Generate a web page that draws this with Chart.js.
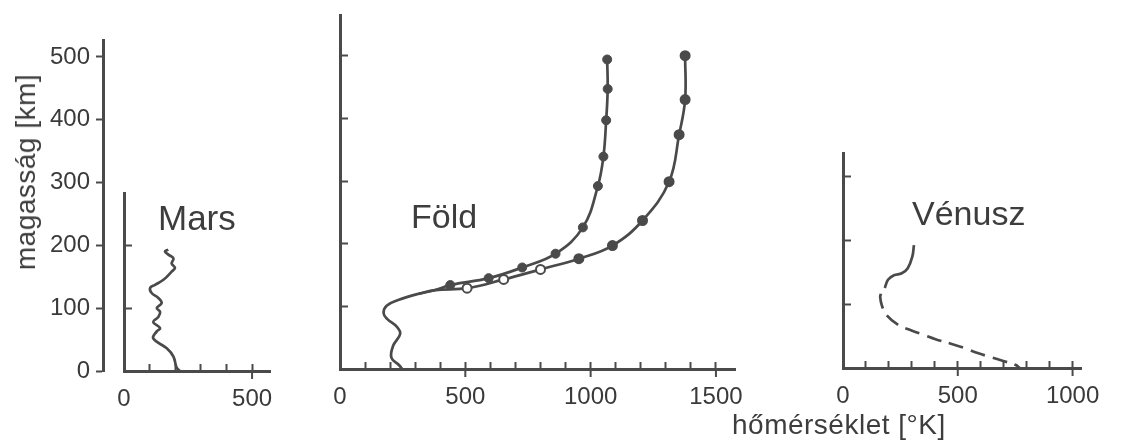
<!DOCTYPE html>
<html lang="hu">
<head>
<meta charset="UTF-8">
<title>Hőmérséklet a magasság függvényében – Mars, Föld, Vénusz</title>
<script src="https://cdn.jsdelivr.net/npm/chart.js"></script>
<style>
  body { margin: 0; background: #fff; font-family: "Liberation Sans", Arial, sans-serif; color: #3d3d3d; }
  #wrap { position: relative; width: 1121px; height: 443px; overflow: hidden; }
  canvas { position: absolute; left: 0; top: 0; }
  .lbl { position: absolute; line-height: 1; white-space: nowrap; }
  #ylabel { left: 26px; top: 172px; font-size: 28px; letter-spacing: 0.5px; transform: translate(-50%, -50%) rotate(-90deg); }
</style>
</head>
<body>
<div id="wrap">
  <canvas id="axisChart" width="1121" height="443"></canvas>
  <canvas id="marsChart" width="1121" height="443"></canvas>
  <canvas id="foldChart" width="1121" height="443"></canvas>
  <canvas id="venusChart" width="1121" height="443"></canvas>
  <div class="lbl" style="left:158px;top:200px;font-size:35px">Mars</div>
  <div class="lbl" style="left:411px;top:199px;font-size:34px">Föld</div>
  <div class="lbl" style="left:912px;top:196px;font-size:34px">Vénusz</div>
  <div class="lbl" style="left:732px;top:411px;font-size:28px;letter-spacing:0.5px">hőmérséklet [°K]</div>
  <div class="lbl" id="ylabel">magasság [km]</div>
</div>

<script>
// altitude axis (shared, labelled)
var altTicks = [0, 100, 200, 300, 400, 500];

// Mars
var marsTemp = [218, 205, 193, 167, 114, 128, 141, 114, 134, 141, 128, 147, 134, 108, 102, 121, 154, 186, 199, 186, 193, 173, 160, 173];
var marsAlt  = [0,   6,   23,  36,  52,  63,  68,  78,  86,  94,  100, 108, 116, 124, 132, 137, 145, 158, 164, 171, 179, 185, 190, 193];
var marsXTicks = [0, 100, 200, 300, 400, 500];
var marsXLabels = [0, 500];
var marsYTicks = [100, 200];

// Föld: common lower part, then two branches
var foldLowTemp = [248, 236, 205, 212, 240, 228, 188, 174, 186, 232, 313, 380];
var foldLowAlt  = [0,   6,   18,  37,  56,  67,  80,  89,  101, 110, 120, 126];
var foldColdTemp = [440, 593, 727, 860, 969, 1029, 1051, 1062, 1068, 1066];
var foldColdAlt  = [134, 145, 162, 184, 226, 292,  339,  397,  447,  494];
var foldHotTemp = [507, 653, 800, 953, 1087, 1207, 1313, 1353, 1377, 1377];
var foldHotAlt  = [129, 143, 159, 176, 197,  237,  299,  374,  430,  500];
var foldHotOpen = 3; // first markers of the hot branch are hollow
var foldXTicks = [0, 100, 200, 300, 400, 500, 600, 700, 800, 900, 1000, 1100, 1200, 1300, 1400, 1500];
var foldXLabels = [0, 500, 1000, 1500];
var foldYTicks = [100, 200, 300, 400, 500];

// Vénusz
var venusSolidTemp = [309, 302, 282, 256, 222, 196, 182];
var venusSolidAlt  = [192, 174, 156, 148, 145, 138, 125];
var venusDashTemp = [165, 162, 169, 189, 242, 296, 349, 403, 470, 530, 590, 644, 698, 751, 770];
var venusDashAlt  = [116, 111, 98,  83,  67,  59,  52,  45,  38,  31,  23,  17,  11,  5,   0];
var venusXTicks = [0, 100, 200, 300, 400, 500, 600, 700, 800, 900, 1000];
var venusXLabels = [0, 500, 1000];
var venusYTicks = [100, 200, 300];

var ink = '#4a4a4a';
var textInk = '#3a3a3a';
var fontFam = '"Liberation Sans", Arial, sans-serif';

function pts(xs, ys) {
  return xs.map(function (x, i) { return { x: x, y: ys[i] }; });
}

function fixTicks(list) {
  return function (scale) { scale.ticks = list.map(function (v) { return { value: v }; }); };
}

// major x ticks cross the axis line: draw the part below it
var majorStubs = {
  id: 'majorStubs',
  afterDraw: function (chart, args, opts) {
    if (!opts.values) return;
    var sx = chart.scales.x, ctx = chart.ctx, y = chart.chartArea.bottom;
    ctx.save();
    ctx.strokeStyle = ink;
    ctx.lineWidth = 2;
    opts.values.forEach(function (v) {
      if (v === 0) return;
      var px = sx.getPixelForValue(v);
      ctx.beginPath();
      ctx.moveTo(px, y);
      ctx.lineTo(px, y + 8);
      ctx.stroke();
    });
    ctx.restore();
  }
};

function line(data, dash) {
  return {
    data: data, showLine: true, pointRadius: 0, borderColor: ink, borderWidth: 2.7,
    tension: 0.4, clip: false, borderDash: dash || []
  };
}

// box = [left, top, right, bottom] of the plot area in page pixels
function panel(id, box, xMax, yMax, xTicks, xLabels, yTicks, datasets) {
  var below = 443 - box[3];
  return new Chart(document.getElementById(id), {
    type: 'scatter',
    data: { datasets: datasets },
    plugins: [majorStubs],
    options: {
      responsive: false,
      animation: false,
      events: [],
      layout: { padding: { left: box[0], top: box[1], right: 1121 - box[2], bottom: 0 } },
      plugins: { legend: { display: false }, tooltip: { enabled: false }, majorStubs: { values: xLabels } },
      scales: {
        x: {
          type: 'linear', min: 0, max: xMax,
          afterFit: function (s) { s.height = below; },
          afterBuildTicks: fixTicks(xTicks),
          border: { color: ink, width: 3 },
          grid: { drawOnChartArea: false, tickLength: -7, tickWidth: 2, tickColor: ink },
          ticks: {
            padding: 21, color: textInk, font: { family: fontFam, size: 24 }, maxRotation: 0, autoSkip: false,
            callback: function (v) { return xLabels.indexOf(v) >= 0 ? String(v) : ''; }
          }
        },
        y: {
          type: 'linear', min: 0, max: yMax,
          afterFit: function (s) { s.width = 0; },
          afterBuildTicks: fixTicks(yTicks),
          border: { color: ink, width: 3 },
          grid: { drawOnChartArea: false, tickLength: -8, tickWidth: 2, tickColor: ink },
          ticks: { display: false }
        }
      }
    }
  });
}

// labelled altitude axis on the far left
new Chart(document.getElementById('axisChart'), {
  type: 'scatter',
  data: { datasets: [] },
  options: {
    responsive: false,
    animation: false,
    events: [],
    layout: { padding: { left: 0, top: 40, right: 1121 - 110, bottom: 443 - 371 } },
    plugins: { legend: { display: false }, tooltip: { enabled: false } },
    scales: {
      x: { type: 'linear', display: false, min: 0, max: 1 },
      y: {
        type: 'linear', min: 0, max: 527,
        afterFit: function (s) { s.width = 103; },
        afterBuildTicks: fixTicks(altTicks),
        border: { color: ink, width: 3 },
        grid: { drawOnChartArea: false, tickLength: 7, tickWidth: 2, tickColor: ink },
        ticks: { padding: 6, color: textInk, font: { family: fontFam, size: 24 } }
      }
    }
  }
});

panel('marsChart', [124, 193, 270, 371], 570, 283, marsXTicks, marsXLabels, marsYTicks, [
  line(pts(marsTemp, marsAlt))
]);

panel('foldChart', [340, 15, 735, 369], 1576, 565, foldXTicks, foldXLabels, foldYTicks, [
  {
    data: pts(foldColdTemp, foldColdAlt), pointRadius: 4.5,
    pointBackgroundColor: ink, pointBorderColor: ink, pointBorderWidth: 1, clip: false
  },
  {
    data: pts(foldHotTemp, foldHotAlt), pointRadius: 4.5,
    pointBackgroundColor: function (c) { return c.dataIndex < foldHotOpen ? '#fff' : ink; },
    pointBorderColor: ink, pointBorderWidth: 2, clip: false
  },
  line(pts(foldLowTemp.concat(foldColdTemp), foldLowAlt.concat(foldColdAlt))),
  line(pts(foldLowTemp.slice(-2).concat(foldHotTemp), foldLowAlt.slice(-2).concat(foldHotAlt)))
]);

panel('venusChart', [843, 153, 1102, 368], 1040, 336, venusXTicks, venusXLabels, venusYTicks, [
  line(pts(venusSolidTemp, venusSolidAlt)),
  line(pts(venusDashTemp, venusDashAlt), [15, 8])
]);
</script>
</body>
</html>
